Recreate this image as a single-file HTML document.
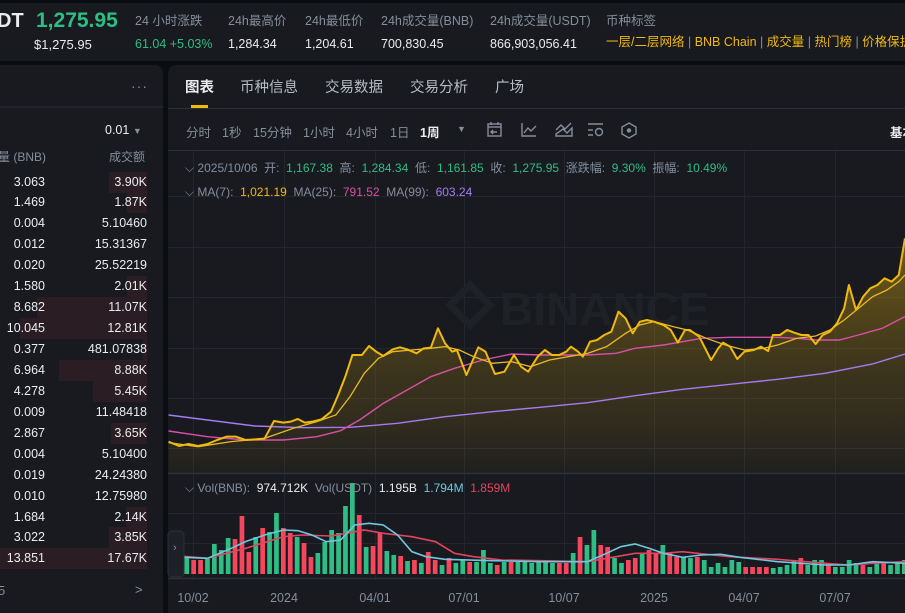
<!DOCTYPE html>
<html><head><meta charset="utf-8">
<style>
*{margin:0;padding:0;box-sizing:border-box}
body{width:905px;height:613px;overflow:hidden;background:#0b0e11;font-family:"Liberation Sans","Noto Sans CJK SC",sans-serif;color:#eaecef;position:relative}
.a{position:absolute;white-space:nowrap}
.g{color:#848e9c}
.gr{color:#2ebd85}
.y{color:#f0b90b}
#hdr{position:absolute;left:0;top:3px;width:905px;height:58px;background:#181a20}
#lp{position:absolute;left:0;top:65px;width:163px;height:548px;background:#181a20;border-top-right-radius:8px}
#cp{position:absolute;left:168px;top:65px;width:737px;height:548px;background:#181a20;border-top-left-radius:8px}
.row{position:absolute;left:0;width:163px;height:21px;font-size:12.5px}
.row .q{position:absolute;right:118px;top:3px}
.row .v{position:absolute;right:16px;top:3px}
.row .bg{position:absolute;right:16px;top:0;height:21px;background:#2b1d24}
.h{line-height:1.2}
</style></head><body>
<div id="hdr"></div>
<div class="a" style="left:-3px;top:10px;font-size:20px;font-weight:bold">DT</div>
<div class="a gr" style="left:36px;top:9px;font-size:21px;font-weight:bold">1,275.95</div>
<div class="a" style="left:34px;top:37px;font-size:13px">$1,275.95</div>
<div class="a g h" style="left:135px;top:14px;font-size:12.5px">24 小时涨跌</div>
<div class="a gr h" style="left:135px;top:37px;font-size:12.5px">61.04 +5.03%</div>
<div class="a g h" style="left:228px;top:14px;font-size:12.5px">24h最高价</div>
<div class="a h" style="left:228px;top:37px;font-size:12.5px">1,284.34</div>
<div class="a g h" style="left:305px;top:14px;font-size:12.5px">24h最低价</div>
<div class="a h" style="left:305px;top:37px;font-size:12.5px">1,204.61</div>
<div class="a g h" style="left:381px;top:14px;font-size:12.5px">24h成交量(BNB)</div>
<div class="a h" style="left:381px;top:37px;font-size:12.5px">700,830.45</div>
<div class="a g h" style="left:490px;top:14px;font-size:12.5px">24h成交量(USDT)</div>
<div class="a h" style="left:490px;top:37px;font-size:12.5px">866,903,056.41</div>
<div class="a g h" style="left:606px;top:14px;font-size:12.5px">币种标签</div>
<div class="a y h" style="left:606px;top:35px;font-size:12.5px">一层/二层网络<span class="g"> | </span>BNB Chain<span class="g"> | </span>成交量<span class="g"> | </span>热门榜<span class="g"> | </span>价格保护</div>

<div id="lp"></div>
<div class="a g" style="left:131px;top:78px;font-size:14px;letter-spacing:1px">···</div>
<div class="a" style="left:0;top:106px;width:163px;height:2px;background:#22252c"></div>
<div class="a" style="left:105px;top:123px;font-size:12.5px">0.01 <span class="g" style="font-size:9px">▼</span></div>
<div class="a g" style="left:-2px;top:148px;font-size:12px">量 (BNB)</div>
<div class="a g" style="left:109px;top:148px;font-size:12px">成交额</div>
<div style="position:absolute;left:0;top:171.5px">
<div class="row" style="top:0"><div class="bg" style="width:38px"></div><span class="q">3.063</span><span class="v">3.90K</span></div>
<div class="row" style="top:20.94px"><div class="bg" style="width:20px"></div><span class="q">1.469</span><span class="v">1.87K</span></div>
<div class="row" style="top:41.88px"><span class="q">0.004</span><span class="v">5.10460</span></div>
<div class="row" style="top:62.82px"><span class="q">0.012</span><span class="v">15.31367</span></div>
<div class="row" style="top:83.76px"><span class="q">0.020</span><span class="v">25.52219</span></div>
<div class="row" style="top:104.7px"><div class="bg" style="width:20px"></div><span class="q">1.580</span><span class="v">2.01K</span></div>
<div class="row" style="top:125.64px"><div class="bg" style="width:110px"></div><span class="q">8.682</span><span class="v">11.07K</span></div>
<div class="row" style="top:146.58px"><div class="bg" style="width:127px"></div><span class="q">10.045</span><span class="v">12.81K</span></div>
<div class="row" style="top:167.52px"><div class="bg" style="width:4px"></div><span class="q">0.377</span><span class="v">481.07838</span></div>
<div class="row" style="top:188.46px"><div class="bg" style="width:88px"></div><span class="q">6.964</span><span class="v">8.88K</span></div>
<div class="row" style="top:209.4px"><div class="bg" style="width:54px"></div><span class="q">4.278</span><span class="v">5.45K</span></div>
<div class="row" style="top:230.34px"><span class="q">0.009</span><span class="v">11.48418</span></div>
<div class="row" style="top:251.28px"><div class="bg" style="width:36px"></div><span class="q">2.867</span><span class="v">3.65K</span></div>
<div class="row" style="top:272.22px"><span class="q">0.004</span><span class="v">5.10400</span></div>
<div class="row" style="top:293.16px"><span class="q">0.019</span><span class="v">24.24380</span></div>
<div class="row" style="top:314.1px"><span class="q">0.010</span><span class="v">12.75980</span></div>
<div class="row" style="top:335.04px"><div class="bg" style="width:21px"></div><span class="q">1.684</span><span class="v">2.14K</span></div>
<div class="row" style="top:355.98px"><div class="bg" style="width:38px"></div><span class="q">3.022</span><span class="v">3.85K</span></div>
<div class="row" style="top:376.92px"><div class="bg" style="width:150px"></div><span class="q">13.851</span><span class="v">17.67K</span></div>
</div>
<div class="a g" style="left:-2px;top:583px;font-size:13px">5</div>
<div class="a g" style="left:135px;top:582px;font-size:13px">&gt;</div>

<div id="cp"></div>
<div class="a" style="left:185px;top:76px;font-size:14.5px;font-weight:bold">图表</div>
<div class="a" style="left:191px;top:105px;width:17px;height:3px;background:#f0b90b"></div>
<div class="a g" style="left:240px;top:76px;font-size:14.5px;color:#b7bdc6">币种信息</div>
<div class="a g" style="left:325px;top:76px;font-size:14.5px;color:#b7bdc6">交易数据</div>
<div class="a g" style="left:410px;top:76px;font-size:14.5px;color:#b7bdc6">交易分析</div>
<div class="a g" style="left:495px;top:76px;font-size:14.5px;color:#b7bdc6">广场</div>
<div class="a" style="left:168px;top:108px;width:737px;height:1px;background:#2b2f36"></div>
<div class="a g" style="left:186px;top:122px;font-size:12.5px">分时</div>
<div class="a g" style="left:222px;top:122px;font-size:12.5px">1秒</div>
<div class="a g" style="left:253px;top:122px;font-size:12.5px">15分钟</div>
<div class="a g" style="left:303px;top:122px;font-size:12.5px">1小时</div>
<div class="a g" style="left:346px;top:122px;font-size:12.5px">4小时</div>
<div class="a g" style="left:390px;top:122px;font-size:12.5px">1日</div>
<div class="a" style="left:420px;top:122px;font-size:12.5px;font-weight:bold">1周</div>
<div class="a g" style="left:457px;top:124px;font-size:9px">▼</div>
<svg class="a" style="left:480px;top:118px" width="170" height="24" fill="none" stroke="#848e9c" stroke-width="1.4">
<rect x="8" y="6" width="13" height="12"/><line x1="8" y1="9" x2="21" y2="9"/><line x1="11" y1="4" x2="11" y2="7"/><line x1="18" y1="4" x2="18" y2="7"/><path d="M17 14h-6m2-2l-2 2 2 2"/>
<path d="M42 5v13h14M44 15l4-5 3 3 5-5"/>
<path d="M76 18h16v-8l-5 5-4-4-7 5zM76 12l5-5 4 4 6-6"/>
<path d="M108 6h15M108 12h5M108 17h5"/><circle cx="119" cy="14" r="3.5"/>
<path d="M149 5l7 4v7l-7 4-7-4v-7z"/><circle cx="149" cy="12.5" r="1.5" fill="#848e9c"/>
</svg>
<div class="a" style="left:890px;top:122px;font-size:12.5px;font-weight:bold">基本</div>

<svg class="a" style="left:0;top:0" width="905" height="613">
<defs>
<linearGradient id="fg" x1="0" y1="0" x2="0" y2="1"><stop offset="0" stop-color="#f0b90b" stop-opacity="0.42"/><stop offset="0.6" stop-color="#b08a10" stop-opacity="0.22"/><stop offset="1" stop-color="#f0b90b" stop-opacity="0.03"/></linearGradient>
</defs>
<line x1="168" y1="150.5" x2="905" y2="150.5" stroke="#2b2f36"/>
<g stroke="#23262d" stroke-width="1">
<line x1="168" y1="196.5" x2="905" y2="196.5"/><line x1="168" y1="247.5" x2="905" y2="247.5"/><line x1="168" y1="297.5" x2="905" y2="297.5"/><line x1="168" y1="348.5" x2="905" y2="348.5"/><line x1="168" y1="398.5" x2="905" y2="398.5"/><line x1="168" y1="448.5" x2="905" y2="448.5"/>
<line x1="168" y1="513.5" x2="905" y2="513.5"/><line x1="168" y1="543.5" x2="905" y2="543.5"/>
<line x1="193.5" y1="151" x2="193.5" y2="580"/><line x1="284.5" y1="151" x2="284.5" y2="580"/><line x1="375.5" y1="151" x2="375.5" y2="580"/><line x1="464.5" y1="151" x2="464.5" y2="580"/><line x1="564.5" y1="151" x2="564.5" y2="580"/><line x1="654.5" y1="151" x2="654.5" y2="580"/><line x1="744.5" y1="151" x2="744.5" y2="580"/><line x1="835.5" y1="151" x2="835.5" y2="580"/>
</g>
<line x1="168" y1="473.5" x2="905" y2="473.5" stroke="#2b2f36" stroke-width="1.5"/>
<line x1="168" y1="578.5" x2="905" y2="578.5" stroke="#2b2f36" stroke-width="1.5"/>
<text x="500" y="325" font-family="Liberation Sans" font-weight="bold" font-size="46" fill="#1e2126">BINANCE</text>
<path d="M470 285l20 20-20 20-20-20z" fill="none" stroke="#1e2126" stroke-width="7"/>
<g transform="translate(160,220) scale(0.4751,0.33333)">
<path fill="url(#fg)" d="M18,665 L40,678 60,672 80,678 100,672 120,660 140,650 160,650 180,660 200,658 220,656 240,603 260,608 275,605 290,597 305,608 320,605 340,598 360,575 375,525 390,470 405,405 425,405 440,378 455,395 470,408 490,388 505,382 520,388 540,400 555,385 570,383 585,325 600,370 615,395 625,390 645,465 670,382 685,395 705,462 725,455 745,405 760,440 775,455 795,410 810,390 825,405 840,405 855,395 865,380 880,395 890,410 905,365 920,360 935,345 950,335 965,275 980,295 995,340 1010,305 1025,300 1040,305 1060,315 1075,330 1090,368 1105,330 1115,330 1135,350 1160,420 1175,385 1185,368 1200,380 1215,417 1230,395 1250,390 1265,380 1280,393 1290,345 1305,345 1320,330 1335,338 1350,345 1365,345 1380,372 1395,345 1410,335 1425,310 1440,265 1450,195 1465,270 1480,230 1495,205 1510,195 1525,175 1540,185 1555,165 1568,55 L1568,760 L18,760 Z"/>
<g fill="none">
<polyline vector-effect="non-scaling-stroke" stroke="#a47cf0" stroke-width="1.4" points="18,585 100,600 200,618 300,623 400,622 500,610 600,590 700,575 800,562 900,548 1000,527 1100,508 1200,493 1300,478 1400,460 1500,432 1568,402"/>
<polyline vector-effect="non-scaling-stroke" stroke="#d94fa8" stroke-width="1.4" points="18,633 100,650 180,660 260,660 330,650 380,632 420,600 470,550 520,510 570,470 620,445 680,420 740,402 800,405 860,405 900,405 960,400 1000,385 1060,375 1100,365 1140,355 1200,352 1300,352 1340,355 1380,360 1430,360 1470,345 1520,325 1568,290"/>
<polyline vector-effect="non-scaling-stroke" stroke="#e9b92a" stroke-width="1.3" points="18,668 80,680 150,665 220,655 280,625 330,605 370,585 400,530 430,460 460,415 490,395 530,390 570,385 600,380 630,390 660,410 700,430 740,425 780,440 820,420 860,410 900,400 940,380 980,340 1010,315 1040,305 1080,320 1110,330 1150,355 1190,375 1230,390 1270,385 1300,375 1340,355 1380,348 1410,330 1440,300 1470,265 1500,230 1530,210 1555,185 1568,165"/>
<polyline vector-effect="non-scaling-stroke" stroke="#f0b90b" stroke-width="2" stroke-linejoin="round" points="18,665 40,678 60,672 80,678 100,672 120,660 140,650 160,650 180,660 200,658 220,656 240,603 260,608 275,605 290,597 305,608 320,605 340,598 360,575 375,525 390,470 405,405 425,405 440,378 455,395 470,408 490,388 505,382 520,388 540,400 555,385 570,383 585,325 600,370 615,395 625,390 645,465 670,382 685,395 705,462 725,455 745,405 760,440 775,455 795,410 810,390 825,405 840,405 855,395 865,380 880,395 890,410 905,365 920,360 935,345 950,335 965,275 980,295 995,340 1010,305 1025,300 1040,305 1060,315 1075,330 1090,368 1105,330 1115,330 1135,350 1160,420 1175,385 1185,368 1200,380 1215,417 1230,395 1250,390 1265,380 1280,393 1290,345 1305,345 1320,330 1335,338 1350,345 1365,345 1380,372 1395,345 1410,335 1425,310 1440,265 1450,195 1465,270 1480,230 1495,205 1510,195 1525,175 1540,185 1555,165 1568,55"/>
</g>
</g>
<g>
<rect x="170.6" y="558" width="4.7" height="16" fill="#2ebd85"/>
<rect x="177.5" y="562" width="4.7" height="12" fill="#f6465d"/>
<rect x="184.4" y="558" width="4.7" height="16" fill="#2ebd85"/>
<rect x="191.3" y="560" width="4.7" height="14" fill="#f6465d"/>
<rect x="198.2" y="560" width="4.7" height="14" fill="#f6465d"/>
<rect x="205.1" y="559" width="4.7" height="15" fill="#2ebd85"/>
<rect x="212" y="544" width="4.7" height="30" fill="#2ebd85"/>
<rect x="218.9" y="550" width="4.7" height="24" fill="#2ebd85"/>
<rect x="225.8" y="538" width="4.7" height="36" fill="#2ebd85"/>
<rect x="232.7" y="539" width="4.7" height="35" fill="#f6465d"/>
<rect x="239.6" y="516" width="4.7" height="58" fill="#f6465d"/>
<rect x="246.5" y="552" width="4.7" height="22" fill="#f6465d"/>
<rect x="253.4" y="537" width="4.7" height="37" fill="#2ebd85"/>
<rect x="260.3" y="528" width="4.7" height="46" fill="#f6465d"/>
<rect x="267.2" y="532" width="4.7" height="42" fill="#2ebd85"/>
<rect x="274.1" y="513" width="4.7" height="61" fill="#2ebd85"/>
<rect x="281" y="528" width="4.7" height="46" fill="#f6465d"/>
<rect x="287.9" y="533" width="4.7" height="41" fill="#f6465d"/>
<rect x="294.8" y="537" width="4.7" height="37" fill="#2ebd85"/>
<rect x="301.7" y="543" width="4.7" height="31" fill="#f6465d"/>
<rect x="308.6" y="557" width="4.7" height="17" fill="#f6465d"/>
<rect x="315.5" y="553" width="4.7" height="21" fill="#2ebd85"/>
<rect x="322.4" y="542" width="4.7" height="32" fill="#2ebd85"/>
<rect x="329.3" y="530" width="4.7" height="44" fill="#2ebd85"/>
<rect x="336.2" y="533" width="4.7" height="41" fill="#2ebd85"/>
<rect x="343.1" y="506" width="4.7" height="68" fill="#2ebd85"/>
<rect x="350" y="483" width="4.7" height="91" fill="#2ebd85"/>
<rect x="356.9" y="515" width="4.7" height="59" fill="#f6465d"/>
<rect x="363.8" y="547" width="4.7" height="27" fill="#2ebd85"/>
<rect x="370.7" y="546" width="4.7" height="28" fill="#f6465d"/>
<rect x="377.6" y="533" width="4.7" height="41" fill="#f6465d"/>
<rect x="384.5" y="551" width="4.7" height="23" fill="#2ebd85"/>
<rect x="391.4" y="555" width="4.7" height="19" fill="#2ebd85"/>
<rect x="398.3" y="556" width="4.7" height="18" fill="#f6465d"/>
<rect x="405.2" y="561" width="4.7" height="13" fill="#2ebd85"/>
<rect x="412.1" y="560" width="4.7" height="14" fill="#f6465d"/>
<rect x="419" y="563" width="4.7" height="11" fill="#2ebd85"/>
<rect x="425.9" y="552" width="4.7" height="22" fill="#f6465d"/>
<rect x="432.8" y="560" width="4.7" height="14" fill="#f6465d"/>
<rect x="439.7" y="565" width="4.7" height="9" fill="#2ebd85"/>
<rect x="446.6" y="558" width="4.7" height="16" fill="#f6465d"/>
<rect x="453.5" y="563" width="4.7" height="11" fill="#2ebd85"/>
<rect x="460.4" y="560" width="4.7" height="14" fill="#2ebd85"/>
<rect x="467.3" y="562" width="4.7" height="12" fill="#f6465d"/>
<rect x="474.2" y="562" width="4.7" height="12" fill="#2ebd85"/>
<rect x="481.1" y="550" width="4.7" height="24" fill="#2ebd85"/>
<rect x="488" y="563" width="4.7" height="11" fill="#2ebd85"/>
<rect x="494.9" y="565" width="4.7" height="9" fill="#f6465d"/>
<rect x="501.8" y="562" width="4.7" height="12" fill="#2ebd85"/>
<rect x="508.7" y="562" width="4.7" height="12" fill="#f6465d"/>
<rect x="515.6" y="562" width="4.7" height="12" fill="#2ebd85"/>
<rect x="522.5" y="562" width="4.7" height="12" fill="#2ebd85"/>
<rect x="529.4" y="563" width="4.7" height="11" fill="#2ebd85"/>
<rect x="536.3" y="562" width="4.7" height="12" fill="#2ebd85"/>
<rect x="543.2" y="562" width="4.7" height="12" fill="#2ebd85"/>
<rect x="550.1" y="563" width="4.7" height="11" fill="#2ebd85"/>
<rect x="557" y="563" width="4.7" height="11" fill="#f6465d"/>
<rect x="563.9" y="563" width="4.7" height="11" fill="#f6465d"/>
<rect x="570.8" y="553" width="4.7" height="21" fill="#2ebd85"/>
<rect x="577.7" y="537" width="4.7" height="37" fill="#f6465d"/>
<rect x="584.6" y="545" width="4.7" height="29" fill="#2ebd85"/>
<rect x="591.5" y="530" width="4.7" height="44" fill="#2ebd85"/>
<rect x="598.4" y="545" width="4.7" height="29" fill="#f6465d"/>
<rect x="605.3" y="547" width="4.7" height="27" fill="#f6465d"/>
<rect x="612.2" y="558" width="4.7" height="16" fill="#2ebd85"/>
<rect x="619.1" y="563" width="4.7" height="11" fill="#2ebd85"/>
<rect x="626" y="560" width="4.7" height="14" fill="#f6465d"/>
<rect x="632.9" y="558" width="4.7" height="16" fill="#f6465d"/>
<rect x="639.8" y="553" width="4.7" height="21" fill="#2ebd85"/>
<rect x="646.7" y="550" width="4.7" height="24" fill="#f6465d"/>
<rect x="653.6" y="553" width="4.7" height="21" fill="#f6465d"/>
<rect x="660.5" y="545" width="4.7" height="29" fill="#2ebd85"/>
<rect x="667.4" y="553" width="4.7" height="21" fill="#f6465d"/>
<rect x="674.3" y="557" width="4.7" height="17" fill="#f6465d"/>
<rect x="681.2" y="557" width="4.7" height="17" fill="#2ebd85"/>
<rect x="688.1" y="558" width="4.7" height="16" fill="#2ebd85"/>
<rect x="695" y="557" width="4.7" height="17" fill="#f6465d"/>
<rect x="701.9" y="560" width="4.7" height="14" fill="#2ebd85"/>
<rect x="708.8" y="567" width="4.7" height="7" fill="#2ebd85"/>
<rect x="715.7" y="563" width="4.7" height="11" fill="#2ebd85"/>
<rect x="722.6" y="567" width="4.7" height="7" fill="#2ebd85"/>
<rect x="729.5" y="560" width="4.7" height="14" fill="#2ebd85"/>
<rect x="736.4" y="562" width="4.7" height="12" fill="#2ebd85"/>
<rect x="743.3" y="567" width="4.7" height="7" fill="#f6465d"/>
<rect x="750.2" y="567" width="4.7" height="7" fill="#f6465d"/>
<rect x="757.1" y="567" width="4.7" height="7" fill="#f6465d"/>
<rect x="764" y="567" width="4.7" height="7" fill="#f6465d"/>
<rect x="770.9" y="568" width="4.7" height="6" fill="#2ebd85"/>
<rect x="777.8" y="567" width="4.7" height="7" fill="#2ebd85"/>
<rect x="784.7" y="565" width="4.7" height="9" fill="#2ebd85"/>
<rect x="791.6" y="560" width="4.7" height="14" fill="#2ebd85"/>
<rect x="798.5" y="558" width="4.7" height="16" fill="#f6465d"/>
<rect x="805.4" y="565" width="4.7" height="9" fill="#2ebd85"/>
<rect x="812.3" y="560" width="4.7" height="14" fill="#2ebd85"/>
<rect x="819.2" y="560" width="4.7" height="14" fill="#2ebd85"/>
<rect x="826.1" y="563" width="4.7" height="11" fill="#f6465d"/>
<rect x="833" y="567" width="4.7" height="7" fill="#2ebd85"/>
<rect x="839.9" y="567" width="4.7" height="7" fill="#2ebd85"/>
<rect x="846.8" y="560" width="4.7" height="14" fill="#2ebd85"/>
<rect x="853.7" y="563" width="4.7" height="11" fill="#2ebd85"/>
<rect x="860.6" y="565" width="4.7" height="9" fill="#f6465d"/>
<rect x="867.5" y="567" width="4.7" height="7" fill="#2ebd85"/>
<rect x="874.4" y="562" width="4.7" height="12" fill="#2ebd85"/>
<rect x="881.3" y="563" width="4.7" height="11" fill="#f6465d"/>
<rect x="888.2" y="565" width="4.7" height="9" fill="#2ebd85"/>
<rect x="895.1" y="563" width="4.7" height="11" fill="#2ebd85"/>
<rect x="902" y="560" width="4.7" height="14" fill="#2ebd85"/>
</g>
<g transform="translate(160,220) scale(0.4751,0.33333)" fill="none">
<polyline vector-effect="non-scaling-stroke" stroke="#e0445f" stroke-width="1.6" points="18,1005 100,1015 180,985 260,950 300,945 360,948 400,938 430,930 470,940 530,950 580,965 620,1000 660,1010 720,1020 800,1022 900,1025 960,1010 1000,1000 1060,1000 1100,995 1150,1003 1200,1010 1300,1018 1400,1030 1450,1035 1500,1030 1568,1025"/>
<polyline vector-effect="non-scaling-stroke" stroke="#6ec8e0" stroke-width="1.6" points="18,1010 100,1015 150,985 180,965 220,945 260,930 290,932 320,945 350,965 380,960 410,915 440,910 470,915 500,945 530,995 560,1010 600,1018 700,1022 800,1025 900,1025 940,1000 970,980 1000,972 1030,985 1060,1000 1100,1012 1140,1005 1180,1003 1220,1012 1300,1025 1400,1035 1450,1035 1500,1025 1568,1030"/>
</g>
<rect x="168" y="531" width="16" height="46" rx="4" fill="#1e2128" stroke="#2b2f36"/>
<text x="173" y="551" font-size="11" fill="#848e9c" font-family="Liberation Sans">›</text>
<g font-family="Liberation Sans" font-size="12.5" fill="#848e9c" text-anchor="middle">
<text x="193" y="602">10/02</text><text x="284" y="602">2024</text><text x="375" y="602">04/01</text><text x="464" y="602">07/01</text><text x="564" y="602">10/07</text><text x="654" y="602">2025</text><text x="744" y="602">04/07</text><text x="835" y="602">07/07</text>
</g>
</svg>
<div class="a" style="left:185px;top:159px;font-size:12px"><span class="g">⌵ 2025/10/06&nbsp; 开:&nbsp; </span><span class="gr">1,167.38</span><span class="g">&nbsp; 高:&nbsp; </span><span class="gr">1,284.34</span><span class="g">&nbsp; 低:&nbsp; </span><span class="gr">1,161.85</span><span class="g">&nbsp; 收:&nbsp; </span><span class="gr">1,275.95</span><span class="g">&nbsp; 涨跌幅:&nbsp; </span><span class="gr">9.30%</span><span class="g">&nbsp; 振幅:&nbsp; </span><span class="gr">10.49%</span></div>
<div class="a" style="left:185px;top:185px;font-size:12px"><span class="g">⌵ MA(7):&nbsp; </span><span class="y">1,021.19</span><span class="g">&nbsp; MA(25):&nbsp; </span><span style="color:#d94fa8">791.52</span><span class="g">&nbsp; MA(99):&nbsp; </span><span style="color:#a47cf0">603.24</span></div>
<div class="a" style="left:185px;top:481px;font-size:12px"><span class="g">⌵ Vol(BNB):&nbsp; </span><span>974.712K</span><span class="g">&nbsp; Vol(USDT)&nbsp; </span><span>1.195B</span>&nbsp; <span style="color:#6ec8e0">1.794M</span>&nbsp; <span style="color:#e0445f">1.859M</span></div>
</body></html>
